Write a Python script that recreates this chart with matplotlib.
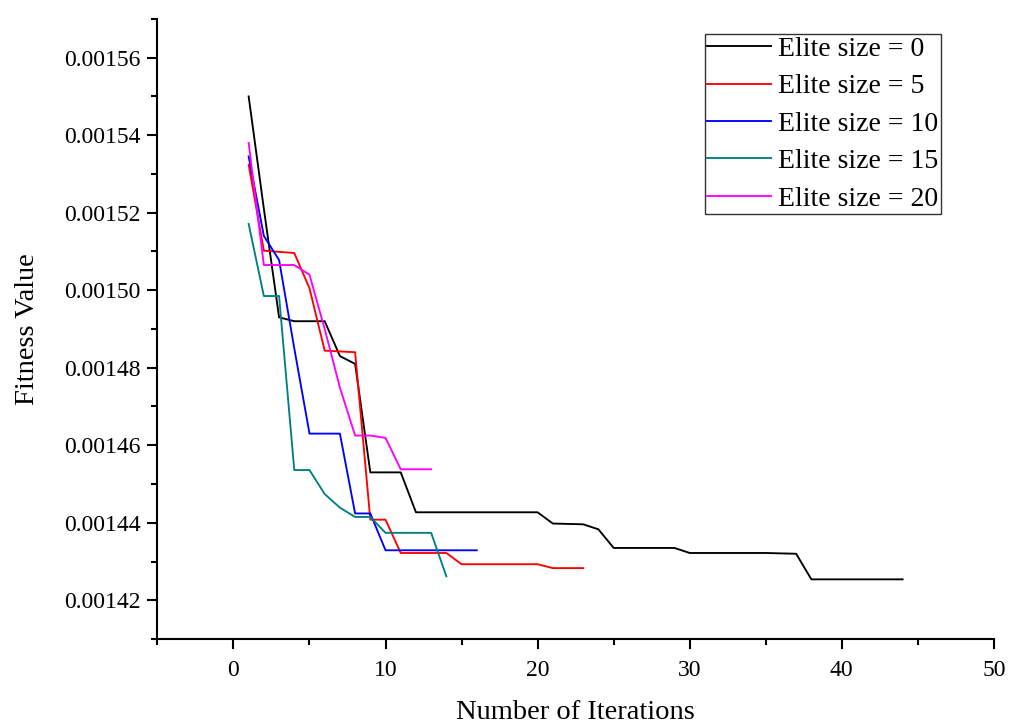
import matplotlib
matplotlib.use("Agg")
import matplotlib.pyplot as plt
from matplotlib.ticker import MultipleLocator, FormatStrFormatter

# Best fitness per iteration for each elite size
iters_e0 = list(range(1, 45))
fit_e0 = [0.001550, 0.001521, 0.001493, 0.001492, 0.001492, 0.001492, 0.001483, 0.001481,
          0.001453, 0.001453, 0.001453, 0.0014427, 0.0014427, 0.0014427, 0.0014427, 0.0014427,
          0.0014427, 0.0014427, 0.0014427, 0.0014427, 0.0014398, 0.0014397, 0.0014396, 0.0014383,
          0.0014335, 0.0014335, 0.0014335, 0.0014335, 0.0014335, 0.0014322, 0.0014322, 0.0014322,
          0.0014322, 0.0014322, 0.0014322, 0.0014321, 0.0014320, 0.0014254, 0.0014254, 0.0014254,
          0.0014254, 0.0014254, 0.0014254, 0.0014254]

iters_e5 = list(range(1, 24))
fit_e5 = [0.0015324, 0.0015102, 0.0015099, 0.0015096, 0.0015005, 0.0014844, 0.0014842, 0.0014840,
          0.0014408, 0.0014408, 0.0014322, 0.0014322, 0.0014322, 0.0014322, 0.0014293, 0.0014293,
          0.0014293, 0.0014293, 0.0014293, 0.0014293, 0.0014283, 0.0014283, 0.0014283]

iters_e10 = list(range(1, 17))
fit_e10 = [0.0015345, 0.0015140, 0.0015078, 0.0014850, 0.0014630, 0.0014630, 0.0014630, 0.0014424,
           0.0014424, 0.0014329, 0.0014329, 0.0014329, 0.0014329, 0.0014329, 0.0014329, 0.0014329]

iters_e15 = list(range(1, 15))
fit_e15 = [0.0015171, 0.0014985, 0.0014985, 0.0014536, 0.0014536, 0.0014474, 0.0014439, 0.0014415,
           0.0014415, 0.0014374, 0.0014374, 0.0014374, 0.0014374, 0.0014262]

iters_e20 = list(range(1, 14))
fit_e20 = [0.0015380, 0.0015065, 0.0015065, 0.0015065, 0.0015040, 0.0014900, 0.0014749, 0.0014625,
           0.0014625, 0.0014619, 0.0014538, 0.0014538, 0.0014538]

labels = ["Elite size = 0", "Elite size = 5", "Elite size = 10", "Elite size = 15", "Elite size = 20"]
colors = ["#000000", "#FF0000", "#0000FF", "#008080", "#FF00FF"]

plt.rcParams["font.family"] = ["Liberation Serif", "DejaVu Serif"]

fig = plt.figure(figsize=(10.09, 7.27), dpi=100)
ax = fig.add_axes([0.156, 0.121, 0.829, 0.853])

series = [(iters_e0, fit_e0), (iters_e5, fit_e5), (iters_e10, fit_e10),
          (iters_e15, fit_e15), (iters_e20, fit_e20)]
for (xs, ys), lab, col in zip(series, labels, colors):
    ax.plot(xs, ys, color=col, lw=1.35, label=lab)

ax.set_xlim(-5, 50)
ax.set_ylim(0.00141, 0.00157)

ax.xaxis.set_major_locator(MultipleLocator(10))
ax.xaxis.set_minor_locator(MultipleLocator(5))
ax.yaxis.set_major_locator(MultipleLocator(0.00002))
ax.yaxis.set_minor_locator(MultipleLocator(0.00001))
ax.yaxis.set_major_formatter(FormatStrFormatter("%.5f"))

for side in ("top", "right"):
    ax.spines[side].set_visible(False)
for side in ("left", "bottom"):
    ax.spines[side].set_linewidth(1.5)

ax.tick_params(which="major", direction="out", length=7, width=1.5, labelsize=17, pad=5)
ax.tick_params(which="minor", direction="out", length=4, width=1.5)
ax.tick_params(axis="x", which="major", pad=8)

ax.set_xlabel("Number of Iterations", fontsize=20.5)
ax.set_ylabel("Fitness Value", fontsize=20.5)
ax.xaxis.set_label_coords(0.5, -0.098)
ax.yaxis.set_label_coords(-0.14, 0.5)

leg = ax.legend(loc="upper right", bbox_to_anchor=(0.937, 0.976), fontsize=20,
                frameon=True, fancybox=False, shadow=False, handlelength=2.3,
                handletextpad=0.25, labelspacing=0.43, borderpad=0.1,
                borderaxespad=0.0)
leg.get_frame().set_edgecolor("black")
leg.get_frame().set_linewidth(1.0)

fig.savefig("out.png", dpi=100)
